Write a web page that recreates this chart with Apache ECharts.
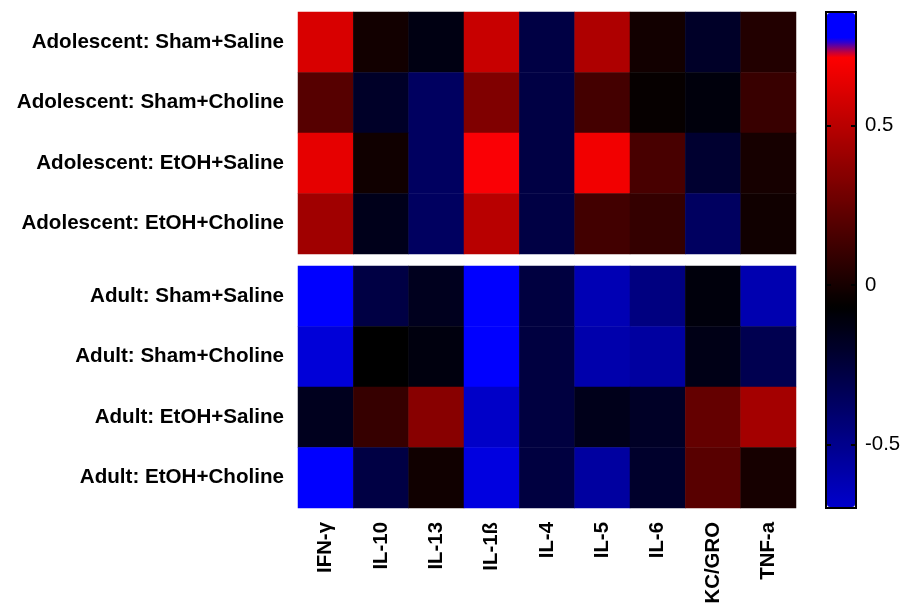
<!DOCTYPE html>
<html>
<head>
<meta charset="utf-8">
<script src="https://cdn.jsdelivr.net/npm/echarts@6/dist/echarts.min.js"></script>
<style>html,body{margin:0;padding:0;background:#fff;}#c{width:908px;height:603px;}</style>
</head>
<body>
<div id="c"></div>
<script>
// ---- data ----
const cytokines = ['IFN-γ', 'IL-10', 'IL-13', 'IL-1ß', 'IL-4', 'IL-5', 'IL-6', 'KC/GRO', 'TNF-a'];
const adolescentGroups = ['Adolescent: Sham+Saline', 'Adolescent: Sham+Choline', 'Adolescent: EtOH+Saline', 'Adolescent: EtOH+Choline'];
const adultGroups = ['Adult: Sham+Saline', 'Adult: Sham+Choline', 'Adult: EtOH+Saline', 'Adult: EtOH+Choline'];
const adolescentShamSaline  = [0.60, -0.014, -0.126, 0.55, -0.28, 0.47, -0.014, -0.193, 0.035];
const adolescentShamCholine = [0.196, -0.193, -0.366, 0.326, -0.28, 0.141, -0.051, -0.107, 0.103];
const adolescentEtohSaline  = [0.642, -0.02, -0.366, 0.72, -0.28, 0.679, 0.153, -0.218, -0.002];
const adolescentEtohCholine = [0.425, -0.15, -0.366, 0.50, -0.28, 0.134, 0.091, -0.366, -0.02];
const adultShamSaline  = [-0.857, -0.28, -0.163, -0.857, -0.268, -0.626, -0.465, -0.107, -0.613];
const adultShamCholine = [-0.737, -0.07, -0.113, -0.857, -0.268, -0.601, -0.564, -0.138, -0.317];
const adultEtohSaline  = [-0.163, 0.097, 0.351, -0.687, -0.268, -0.15, -0.187, 0.24, 0.438];
const adultEtohCholine = [-0.857, -0.28, -0.02, -0.761, -0.268, -0.564, -0.206, 0.202, -0.002];
const colorbarTicks = [-0.5, 0, 0.5];
const colorbarMin = -0.7, colorbarMax = 0.857;
const scaleMin = -0.857, scaleMax = 0.857;

const adolescentValues = [adolescentShamSaline, adolescentShamCholine, adolescentEtohSaline, adolescentEtohCholine];
const adultValues = [adultShamSaline, adultShamCholine, adultEtohSaline, adultEtohCholine];

function toCells(rows) {
  const out = [];
  rows.forEach((r, yi) => r.forEach((v, xi) => out.push([xi, yi, v])));
  return out;
}

// colour map (blue - black - red, with blue band at the top as in the reference)
const stops = [[-0.857, [0, 0, 255]], [-0.07, [0, 0, 0]], [0.72, [255, 0, 0]], [0.775, [0, 0, 255]], [0.86, [0, 0, 255]]];
function cmap(v) {
  if (v <= stops[0][0]) return stops[0][1];
  for (let i = 1; i < stops.length; i++) {
    if (v <= stops[i][0]) {
      const a = stops[i - 1], b = stops[i];
      const t = (v - a[0]) / (b[0] - a[0]);
      return a[1].map((c, k) => Math.round(c + (b[1][k] - c) * t));
    }
  }
  return stops[stops.length - 1][1];
}
function colorList(lo, hi, n) {
  const arr = [];
  for (let i = 0; i <= n; i++) {
    const c = cmap(lo + (hi - lo) * i / n);
    arr.push('rgb(' + c.join(',') + ')');
  }
  return arr;
}

const font = "'Liberation Sans', Arial, sans-serif";
const chart = echarts.init(document.getElementById('c'), null, { renderer: 'canvas' });

const yLabel = { fontFamily: font, fontWeight: 'bold', fontSize: 20.6, color: '#000', margin: 14 };
const cbTickStyle = { color: '#000', width: 2 };

chart.setOption({
  backgroundColor: '#fff',
  animation: false,
  grid: [
    { left: 298, top: 12, width: 498, height: 242, outerBoundsMode: 'none' },
    { left: 298, top: 266, width: 498, height: 242, outerBoundsMode: 'none' },
    { left: 826, top: 12, width: 30, height: 496, show: true, borderColor: '#000', borderWidth: 2, backgroundColor: 'transparent', z: 10, outerBoundsMode: 'none' },
    { left: 856, top: 12, width: 1, height: 496, outerBoundsMode: 'none' }
  ],
  xAxis: [
    { type: 'category', gridIndex: 0, data: cytokines, show: false },
    { type: 'category', gridIndex: 1, data: cytokines, axisLine: { show: false }, axisTick: { show: false },
      axisLabel: { rotate: 90, interval: 0, fontFamily: font, fontWeight: 'bold', fontSize: 20.4, color: '#000', margin: 14 } },
    { type: 'value', gridIndex: 2, show: false, min: 0, max: 1 },
    { type: 'value', gridIndex: 3, show: false, min: 0, max: 1 }
  ],
  yAxis: [
    { type: 'category', gridIndex: 0, data: adolescentGroups, inverse: true, axisLine: { show: false }, axisTick: { show: false }, axisLabel: yLabel },
    { type: 'category', gridIndex: 1, data: adultGroups, inverse: true, axisLine: { show: false }, axisTick: { show: false }, axisLabel: yLabel },
    // colour-bar labels (right side)
    { type: 'value', gridIndex: 2, position: 'right', min: colorbarMin, max: colorbarMax, splitLine: { show: false }, z: 11,
      axisLine: { show: false }, axisTick: { show: false },
      axisLabel: { customValues: colorbarTicks, fontFamily: font, fontSize: 20.4, color: '#000', margin: 9 } },
    // left inward ticks
    { type: 'value', gridIndex: 2, position: 'left', min: colorbarMin, max: colorbarMax, splitLine: { show: false }, z: 11,
      axisLine: { show: false }, axisTick: { show: true, inside: true, length: 5, customValues: colorbarTicks, lineStyle: cbTickStyle },
      axisLabel: { show: false, customValues: colorbarTicks } },
    // right inward ticks (axis at the bar's right edge, ticks pointing left into the bar)
    { type: 'value', gridIndex: 3, position: 'left', min: colorbarMin, max: colorbarMax, splitLine: { show: false }, z: 11,
      axisLine: { show: false }, axisTick: { show: true, inside: false, length: 5, customValues: colorbarTicks, lineStyle: cbTickStyle },
      axisLabel: { show: false, customValues: colorbarTicks } }
  ],
  visualMap: [
    { type: 'continuous', show: false, min: scaleMin, max: scaleMax, seriesIndex: [0, 1], dimension: 2,
      inRange: { color: colorList(scaleMin, scaleMax, 240) } },
    { type: 'continuous', show: true, min: colorbarMin, max: colorbarMax, seriesIndex: [2], dimension: 2,
      calculable: false, hoverLink: false, left: 827, top: 13, padding: 0, itemWidth: 28, itemHeight: 494,
      inRange: { color: colorList(colorbarMin, colorbarMax, 240) }, z: 1 }
  ],
  series: [
    { type: 'heatmap', xAxisIndex: 0, yAxisIndex: 0, data: toCells(adolescentValues), itemStyle: { borderWidth: 0 }, emphasis: { disabled: true } },
    { type: 'heatmap', xAxisIndex: 1, yAxisIndex: 1, data: toCells(adultValues), itemStyle: { borderWidth: 0 }, emphasis: { disabled: true } },
    { type: 'heatmap', xAxisIndex: 0, yAxisIndex: 0, data: [] }
  ]
});
</script>
</body>
</html>
